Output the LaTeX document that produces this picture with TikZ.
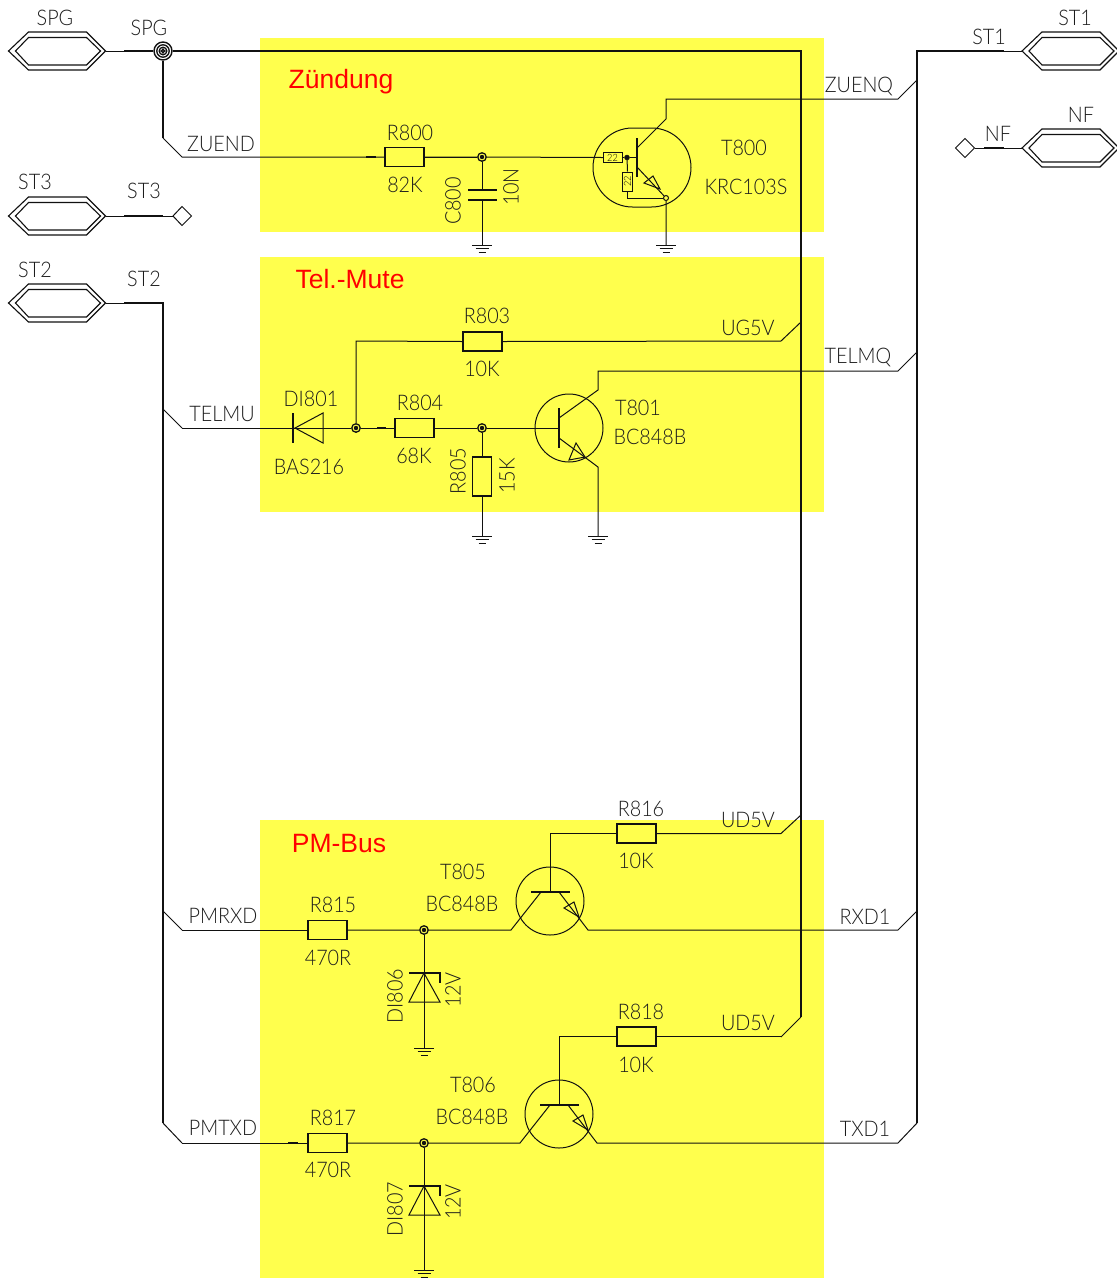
\documentclass[tikz,border=0pt]{standalone}
\usepackage{fontspec}
\setmainfont{Liberation Sans}
\newfontfamily\cad[UprightFont=* Light,FakeStretch=0.92]{Lato}
\definecolor{ink}{HTML}{111111}
\definecolor{txt}{HTML}{1C1C1C}
\definecolor{zone}{HTML}{FFFF4D}
\tikzset{
  wire/.style={draw=ink,line width=1pt,line join=miter},
  tick/.style={draw=ink,line width=1.7pt},
  bus/.style={draw=ink,line width=1.9pt,line join=miter},
  res/.style={draw=ink,line width=1.1pt,rectangle,minimum width=39pt,minimum height=19pt,inner sep=0pt},
  vres/.style={res,minimum width=19pt,minimum height=39pt},
  minires/.style={draw=ink,line width=1pt,rectangle,minimum width=19pt,minimum height=9.5pt,inner sep=0pt,font=\cad\fontsize{10}{10}\selectfont},
  minivres/.style={minires,minimum width=9.5pt,minimum height=19pt},
  junc/.style={draw=ink,line width=1.3pt,circle,minimum size=8.5pt,inner sep=0pt,path picture={\fill[ink] (path picture bounding box.center) circle (2.2pt);}},
  bigjunc/.style={draw=ink,line width=1.4pt,circle,minimum size=18pt,inner sep=0pt},
  tr/.style={draw=ink,line width=1pt,circle,minimum size=68pt,inner sep=0pt},
  lab/.style={font=\cad\fontsize{21.5}{22}\selectfont,text=txt,inner sep=0pt},
  vlab/.style={lab,rotate=90},
  zonelab/.style={font=\fontsize{26.5}{28}\selectfont,text=red,inner sep=0pt}
}
\newcommand{\hexplug}[3]{% name, left tip x, centre y
  \begin{scope}[shift={(#2,#3)}]
    \draw[draw=ink,line width=1.1pt] (0,0) -- (20,-19) -- (78,-19) -- (97,0) -- (78,19) -- (20,19) -- cycle;
    \draw[draw=ink,line width=1.1pt] (7,0) -- (20,-13.5) -- (78,-13.5) -- (92,0) -- (78,14) -- (20,14) -- cycle;
    \coordinate (#1L) at (0,0);
    \coordinate (#1R) at (97,0);
  \end{scope}}
\newcommand{\gnd}[2]{% x y
  \draw[wire] (#1-10,#2) -- (#1+10,#2);
  \draw[wire] (#1-6.5,#2+3.5) -- (#1+6.5,#2+3.5);
  \draw[wire] (#1-3.5,#2+7) -- (#1+3.5,#2+7);}
\begin{document}
\begin{tikzpicture}[x=1pt,y=-1pt]
\useasboundingbox (0,0) rectangle (1117,1278);
\fill[white] (0,0) rectangle (1117,1278);
% zones
\fill[zone] (260,38) rectangle (824,232);
\fill[zone] (260,257) rectangle (824,512);
\fill[zone] (260,820) rectangle (824,1278);
\node[zonelab] (zz1) at (341,82) {Zündung};
\node[zonelab] (zz2) at (350,279) {Tel.-Mute};
\node[zonelab] (zz3) at (339,844) {PM-Bus};
% plugs
\hexplug{pSPG}{8.5}{51}
\hexplug{pST3}{8.5}{216}
\hexplug{pST2}{8.5}{303}
\hexplug{pST1}{1022}{51}
\hexplug{pNF}{1022}{148}
% bus coordinates
\coordinate (spgA) at (124,51);
\node[bigjunc] (jSPG) at (163,51) {};
\draw[draw=ink,line width=1.3pt] (163,51) circle (6.2pt) (163,51) circle (3.8pt) (163,51) circle (1.6pt);
\coordinate (b801top) at (801,51);
\coordinate (b801bot) at (801,1017);
\coordinate (b801ug) at (801,322);
\coordinate (b801ud) at (801,815);
\coordinate (st1a) at (1004,51);
\coordinate (b917top) at (917,51);
\coordinate (b917bot) at (917,1123);
\coordinate (b917z) at (917,80);
\coordinate (b917t) at (917,352);
\coordinate (b917r) at (917,911);
\coordinate (st2a) at (124,303);
\coordinate (b163top) at (163,303);
\coordinate (b163bot) at (163,1123);
\coordinate (b163t) at (163,409);
\coordinate (b163r) at (163,911);
\coordinate (zuendk) at (163,138);
% ZUEND zone
\node[res] (R800) at (404.5,157) {};
\node[junc] (j800) at (482,157) {};
\node[minires] (Rb) at (612.5,157.5) {22};
\node[draw=ink,fill=ink,circle,minimum size=5pt,inner sep=0pt] (jb) at (627,157.5) {};
\node[minivres] (Re) at (627.5,181.5) {\rotatebox{90}{22}};
\node[draw=ink,line width=1pt,circle,minimum size=5pt,inner sep=0pt] (je0) at (666,198) {};
\draw[wire,rounded corners=39.5pt] (593,128) rectangle (691,207);
\coordinate (cb0) at (637,138); \coordinate (cb1) at (637,177);
\coordinate (c0) at (637,148); \coordinate (c1) at (666,119); \coordinate (c2) at (666,99); \coordinate (c3) at (898,99);
\coordinate (e0) at (637,167);
\coordinate (g800) at (666,245);
\draw[wire] (Rb.west) -- (j800) -- (R800.east);
\draw[tick] (588,157.5) -- (Rb.west);
\draw[wire] (Rb.east) -- (jb) -- (637,157.5);
\draw[wire] (jb) -- (Re.north);
\draw[wire] (Re.south) -- (627.5,198) -- (je0);
\draw[draw=ink,line width=1.2pt] (cb0) -- (cb1);
\draw[wire] (c0) -- (c1) -- (c2) -- (c3) -- (b917z);
\draw[wire] (e0) -- (je0) -- (g800);
\draw[wire] (653,176) -- (644,183) -- (660,189) -- cycle;
\gnd{666}{245}
\coordinate (capa) at (482,190); \coordinate (capb) at (482,200); \coordinate (g801) at (482,245);
\draw[wire] (j800) -- (capa) (capb) -- (g801);
\draw[draw=ink,line width=1.1pt] (468,190) -- (497,190) (468,200) -- (497,200);
\gnd{482}{245}
% Tel-mute
\node[res] (R803) at (482.5,341.5) {};
\node[res] (R804) at (414.5,428) {};
\node[vres] (R805) at (482,476.5) {};
\node[junc] (j356) at (356,428) {};
\node[junc] (j482) at (482,428) {};
\node[tr] (T801) at (569,428) {};
\coordinate (telin) at (182,428);
\coordinate (k356) at (356,341);
\coordinate (ugend) at (781,341);
\draw[wire] (telin) -- (j356) -- (R804.west);
\draw[tick] (377,428) -- (386,428);
\draw[wire] (j356) -- (k356) -- (R803.west);
\draw[tick] (444,341.5) -- (454,341.5);
\draw[wire] (R803.east) -- (ugend);
\draw[wire] (R804.east) -- (j482) -- (559,428);
\draw[wire] (j482) -- (R805.north);
\draw[wire] (R805.south) -- (482,536);
\gnd{482}{536}
\draw[draw=ink,line width=1.6pt] (293,413) -- (293,443);
\draw[wire] (295,428) -- (323,413) -- (323,443) -- cycle;
\draw[draw=ink,line width=1.2pt] (559,408) -- (559,448);
\draw[wire] (559,418) -- (598,390) -- (598,371) -- (898,371) -- (b917t);
\draw[wire] (559,438) -- (598,467) -- (598,536);
\draw[wire] (576,443) -- (569,460) -- (585,457) -- cycle;
\gnd{598}{536}
% PM-Bus T805
\node[res] (R815) at (327.5,930) {};
\node[res] (R816) at (636.5,833.5) {};
\node[junc] (j424a) at (424,930) {};
\node[tr] (T805) at (550,901) {};
\coordinate (prx) at (182,930);
\draw[wire] (prx) -- (R815.west);
\draw[wire] (R815.east) -- (j424a) -- (511,930) -- (541,892);
\draw[draw=ink,line width=1.2pt] (531,892) -- (570,892);
\draw[wire] (559,892) -- (588,930) -- (898,930) -- (b917r);
\draw[wire] (550,892) -- (550,833.5) -- (R816.west);
\draw[tick] (598,833.5) -- (608,833.5);
\draw[wire] (R816.east) -- (781,833.5) -- (b801ud);
\draw[wire] (574,902) -- (564,908) -- (579,917) -- cycle;
\draw[wire] (j424a) -- (424,1048);
\draw[wire] (409,1002) -- (440,1002) -- (424,973) -- cycle;
\draw[draw=ink,line width=1.6pt] (409,973) -- (440,973) -- (440,983);
\gnd{424}{1048}
% PM-Bus T806
\node[res] (R817) at (327.5,1143) {};
\node[res] (R818) at (636.5,1036.5) {};
\node[junc] (j424b) at (424,1143) {};
\node[tr] (T806) at (559,1114) {};
\coordinate (ptx) at (182,1143);
\draw[wire] (ptx) -- (R817.west);
\draw[tick] (288,1143) -- (298,1143);
\draw[wire] (R817.east) -- (j424b) -- (520,1143) -- (550,1105);
\draw[draw=ink,line width=1.2pt] (540,1105) -- (579,1105);
\draw[wire] (568,1105) -- (597,1143) -- (898,1143) -- (b917bot);
\draw[wire] (559,1105) -- (559,1036.5) -- (R818.west);
\draw[tick] (598,1036.5) -- (608,1036.5);
\draw[wire] (R818.east) -- (781,1036.5);
\draw[wire] (583,1115) -- (573,1121) -- (588,1130) -- cycle;
\draw[wire] (j424b) -- (424,1270);
\draw[wire] (409,1215) -- (440,1215) -- (424,1186) -- cycle;
\draw[draw=ink,line width=1.6pt] (409,1186) -- (440,1186) -- (440,1196);
\gnd{424}{1270}
% buses
\draw[wire] (pSPGR) -- (spgA);
\draw[bus] (spgA) -- (jSPG) -- (b801top) -- (b801bot);
\draw[wire] (b801bot) -- (781,1037);
\draw[wire] (b801ug) -- (ugend);
\draw[bus] (jSPG) -- (zuendk);
\draw[wire] (zuendk) -- (182,157) -- (R800.west);
\draw[tick] (366,157) -- (376,157);
\draw[wire] (R800.east) -- (j800);
\draw[wire] (pST1L) -- (st1a);
\draw[bus] (st1a) -- (b917top) -- (b917bot);
\draw[wire] (pST2R) -- (st2a);
\draw[bus] (st2a) -- (b163top) -- (b163bot);
\draw[wire] (b163bot) -- (ptx);
\draw[wire] (b163t) -- (telin);
\draw[wire] (b163r) -- (prx);
% stubs
\draw[wire] (173,216) -- (182,206.5) -- (191.5,216) -- (182,225.5) -- cycle;
\coordinate (dST3) at (173,216);
\draw[wire] (pST3R) -- (dST3);
\draw[bus] (124,216) -- (163,216);
\draw[wire] (955.5,148) -- (965,138.5) -- (974.5,148) -- (965,157.5) -- cycle;
\coordinate (dNF) at (974.5,148);
\draw[wire] (dNF) -- (pNFL);
\draw[bus] (984,148) -- (1004,148);
% labels
\node[lab] (t1) at (55,18) {SPG};
\node[lab] (t2) at (149,28) {SPG};
\node[lab] (t3) at (35,182) {ST3};
\node[lab] (t4) at (144,191) {ST3};
\node[lab] (t5) at (35,270) {ST2};
\node[lab] (t6) at (144,279) {ST2};
\node[lab] (t7) at (221,144) {ZUEND};
\node[lab] (t8) at (410,133) {R800};
\node[lab] (t9) at (405,185) {82K};
\node[lab] (t10) at (744,148) {T800};
\node[lab] (t11) at (746,187) {KRC103S};
\node[lab] (t12) at (989,37) {ST1};
\node[lab] (t13) at (1075,18) {ST1};
\node[lab] (t14) at (998,134) {NF};
\node[lab] (t15) at (1081,115) {NF};
\node[lab] (t16) at (859,86) {ZUENQ};
\node[lab] (t17) at (487,316) {R803};
\node[lab] (t18) at (482,369) {10K};
\node[lab] (t19) at (748,328) {UG5V};
\node[lab] (t20) at (858,357) {TELMQ};
\node[lab] (t21) at (222,414) {TELMU};
\node[lab] (t22) at (311,399) {DI801};
\node[lab] (t23) at (309,467) {BAS216};
\node[lab] (t24) at (420,403) {R804};
\node[lab] (t25) at (414,456) {68K};
\node[lab] (t26) at (638,408) {T801};
\node[lab] (t27) at (650,437) {BC848B};
\node[lab] (t28) at (641,809) {R816};
\node[lab] (t29) at (636,861) {10K};
\node[lab] (t30) at (748,820) {UD5V};
\node[lab] (t31) at (463,872) {T805};
\node[lab] (t32) at (462,904) {BC848B};
\node[lab] (t33) at (223,916) {PMRXD};
\node[lab] (t34) at (333,905) {R815};
\node[lab] (t35) at (328,958) {470R};
\node[lab] (t36) at (865,917) {RXD1};
\node[lab] (t37) at (641,1012) {R818};
\node[lab] (t38) at (636,1065) {10K};
\node[lab] (t39) at (748,1023) {UD5V};
\node[lab] (t40) at (473,1085) {T806};
\node[lab] (t41) at (472,1117) {BC848B};
\node[lab] (t42) at (223,1128) {PMTXD};
\node[lab] (t43) at (333,1118) {R817};
\node[lab] (t44) at (328,1170) {470R};
\node[lab] (t45) at (865,1129) {TXD1};
\node[vlab] (v1) at (453,201) {C800};
\node[vlab] (v2) at (511,187) {10N};
\node[vlab] (v3) at (458,471) {R805};
\node[vlab] (v4) at (507,476) {15K};
\node[vlab] (v5) at (395,996) {DI806};
\node[vlab] (v6) at (453,990) {12V};
\node[vlab] (v7) at (395,1209) {DI807};
\node[vlab] (v8) at (453,1202) {12V};
\end{tikzpicture}
\end{document}
